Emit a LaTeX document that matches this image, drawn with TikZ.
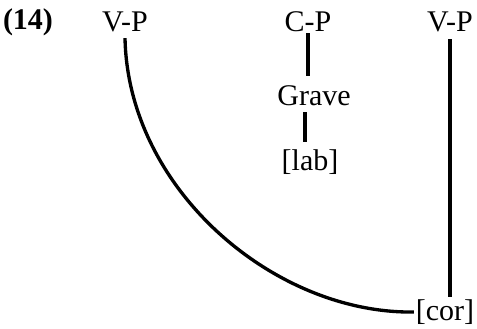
\documentclass[tikz,border=0pt]{standalone}
\usepackage{fontspec}
\setmainfont{Liberation Serif}
\usepackage{tikz}
\usetikzlibrary{calc}

\begin{document}
\begin{tikzpicture}[
  x=0.6pt, y=-0.6pt,
  font=\fontsize{18}{21}\selectfont,
  lbl/.style={inner sep=1pt, anchor=center},
  ln/.style={line width=2pt}
]
\useasboundingbox (0,0) rectangle (477,328);
\node[lbl, font=\fontsize{18}{21}\selectfont\bfseries] (num) at (28,22) {(14)};
\node[lbl] (vpl) at (125,22) {V-P};
\node[lbl] (cp) at (308,22) {C-P};
\node[lbl] (vpr) at (450,22) {V-P};
\node[lbl] (grave) at (314,96) {Grave};
\node[lbl] (lab) at (310,162) {[lab]};
\node[lbl] (cor) at (445,312) {[cor]};

\draw[ln] (cp.south) ++(0,-1) -- ($(grave.north)+(-6,-8)$);
\draw[ln] (grave.south) ++(-9,4) -- ($(lab.north)+(-5,-6)$);
\draw[ln] (vpr.south) ++(0,5) -- ($(cor.north)+(5,-1)$);
\draw[ln] (vpl.south) ++(0,4) .. controls (128,190) and (275,314) .. (cor.west);
\end{tikzpicture}
\end{document}
